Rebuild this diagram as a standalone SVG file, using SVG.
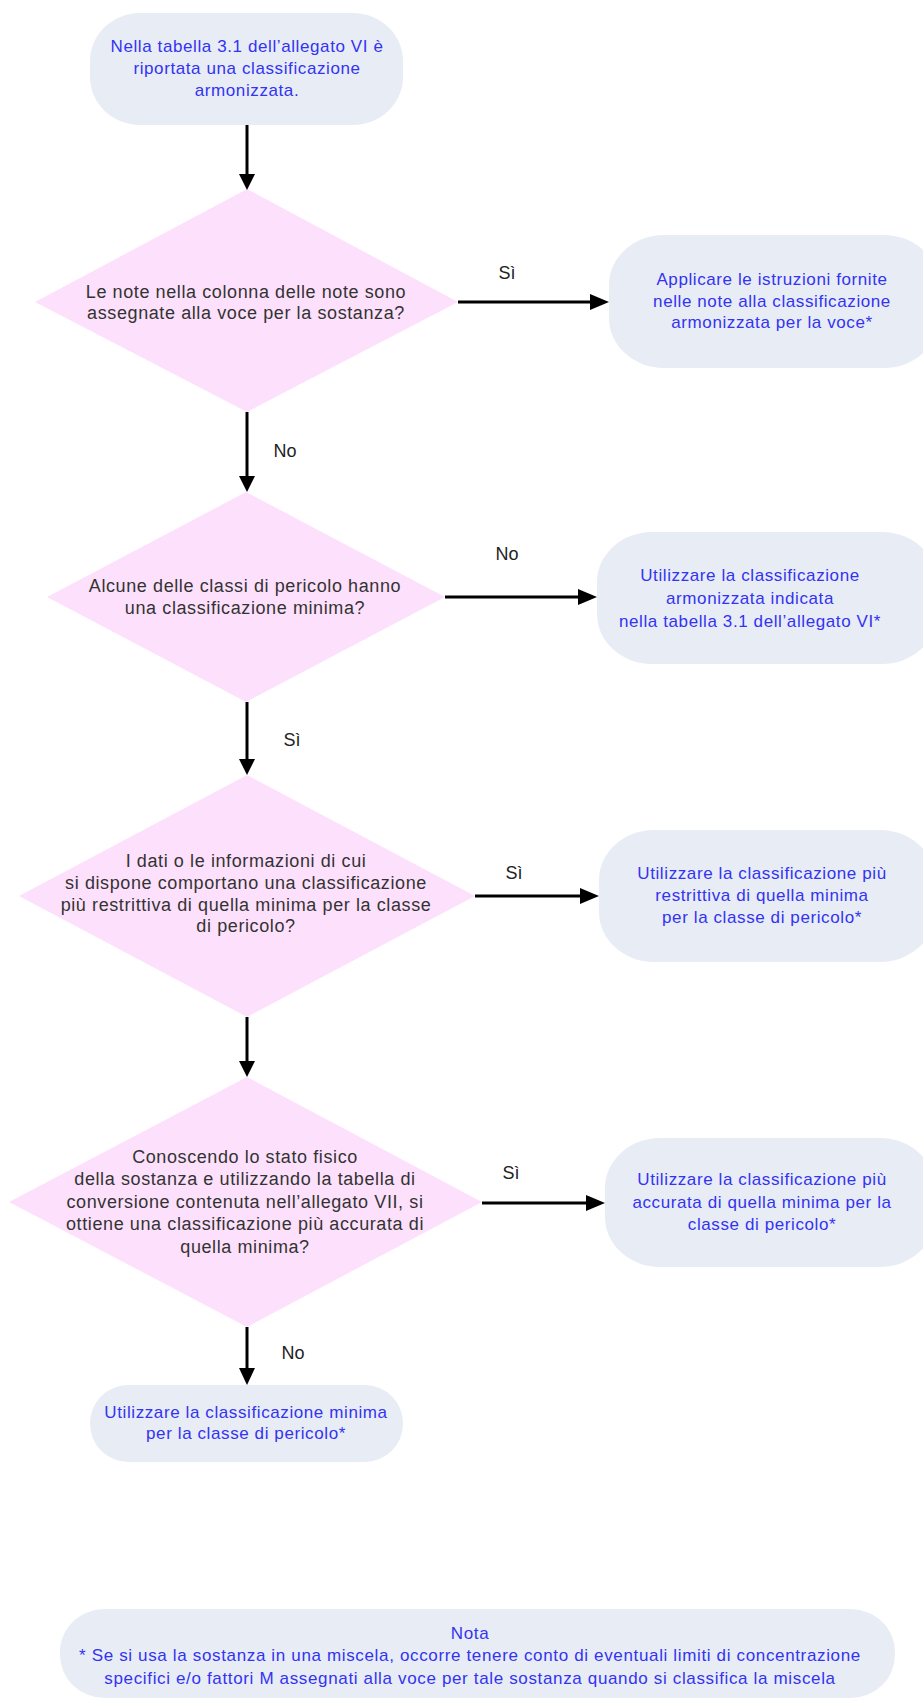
<svg xmlns="http://www.w3.org/2000/svg" width="923" height="1700" viewBox="0 0 923 1700">
<defs>
<style>
.box{fill:#E8ECF5;}
.dia{fill:#FDE1FC;}
.bt{font-family:"Liberation Sans",Arial,sans-serif;font-size:17px;letter-spacing:0.6px;fill:#3333F2;text-anchor:middle;}
.kt{font-family:"Liberation Sans",Arial,sans-serif;font-size:18px;letter-spacing:0.6px;fill:#333;text-anchor:middle;}
.lbl{font-family:"Liberation Sans",Arial,sans-serif;font-size:18px;fill:#222;text-anchor:middle;}
.nt{font-family:"Liberation Sans",Arial,sans-serif;font-size:17px;letter-spacing:0.65px;fill:#3333F2;text-anchor:middle;}
.ar{stroke:#000;stroke-width:3;fill:none;}
.ah{fill:#000;}
</style>
</defs>
<rect width="923" height="1700" fill="#fff"/>

<g id="start">
<rect class="box" x="90" y="13" width="313" height="112" rx="50" ry="48"/>
<text class="bt" x="247" y="52">Nella tabella 3.1 dell’allegato VI è</text>
<text class="bt" x="247" y="74">riportata una classificazione</text>
<text class="bt" x="247" y="96">armonizzata.</text>
</g>

<g id="q1">
<polygon class="dia" points="247,189 458,302 247,412 35,302"/>
<text class="kt" x="246" y="298">Le note nella colonna delle note sono</text>
<text class="kt" x="246" y="319">assegnate alla voce per la sostanza?</text>
</g>

<g id="r1">
<rect class="box" x="609" y="235" width="330" height="133" rx="55" ry="50"/>
<text class="bt" x="772" y="285">Applicare le istruzioni fornite</text>
<text class="bt" x="772" y="307">nelle note alla classificazione</text>
<text class="bt" x="772" y="328">armonizzata per la voce*</text>
</g>

<g id="q2">
<polygon class="dia" points="246,492 445,597 246,702 47,597"/>
<text class="kt" x="245" y="592">Alcune delle classi di pericolo hanno</text>
<text class="kt" x="245" y="614">una classificazione minima?</text>
</g>

<g id="r2">
<rect class="box" x="597" y="532" width="340" height="132" rx="55" ry="50"/>
<text class="bt" x="750" y="581">Utilizzare la classificazione</text>
<text class="bt" x="750" y="604">armonizzata indicata</text>
<text class="bt" x="750" y="627">nella tabella 3.1 dell’allegato VI*</text>
</g>

<g id="q3">
<polygon class="dia" points="247,775 475,896 247,1017 19,896"/>
<text class="kt" x="246" y="867">I dati o le informazioni di cui</text>
<text class="kt" x="246" y="889">si dispone comportano una classificazione</text>
<text class="kt" x="246" y="911">più restrittiva di quella minima per la classe</text>
<text class="kt" x="246" y="932">di pericolo?</text>
</g>

<g id="r3">
<rect class="box" x="599" y="830" width="336" height="132" rx="55" ry="50"/>
<text class="bt" x="762" y="879">Utilizzare la classificazione più</text>
<text class="bt" x="762" y="901">restrittiva di quella minima</text>
<text class="bt" x="762" y="923">per la classe di pericolo*</text>
</g>

<g id="q4">
<polygon class="dia" points="247,1077 482,1202 247,1327 9,1202"/>
<text class="kt" x="245" y="1163">Conoscendo lo stato fisico</text>
<text class="kt" x="245" y="1185">della sostanza e utilizzando la tabella di</text>
<text class="kt" x="245" y="1208">conversione contenuta nell’allegato VII, si</text>
<text class="kt" x="245" y="1230">ottiene una classificazione più accurata di</text>
<text class="kt" x="245" y="1253">quella minima?</text>
</g>

<g id="r4">
<rect class="box" x="605" y="1138" width="330" height="129" rx="55" ry="50"/>
<text class="bt" x="762" y="1185">Utilizzare la classificazione più</text>
<text class="bt" x="762" y="1208">accurata di quella minima per la</text>
<text class="bt" x="762" y="1230">classe di pericolo*</text>
</g>

<g id="r5">
<rect class="box" x="90" y="1385" width="313" height="77" rx="38" ry="38"/>
<text class="bt" x="246" y="1418">Utilizzare la classificazione minima</text>
<text class="bt" x="246" y="1439">per la classe di pericolo*</text>
</g>

<g id="note">
<rect class="box" x="60" y="1609" width="835" height="89" rx="45" ry="43"/>
<text class="nt" x="470" y="1639">Nota</text>
<text class="nt" x="470" y="1661">* Se si usa la sostanza in una miscela, occorre tenere conto di eventuali limiti di concentrazione</text>
<text class="nt" x="470" y="1684">specifici e/o fattori M assegnati alla voce per tale sostanza quando si classifica la miscela</text>
</g>

<g id="connectors">
<line class="ar" x1="247" y1="125" x2="247" y2="176"/>
<polygon class="ah" points="239,174 255,174 247,190"/>
<line class="ar" x1="458" y1="302" x2="592" y2="302"/>
<polygon class="ah" points="590,294 590,310 609,302"/>
<line class="ar" x1="247" y1="412" x2="247" y2="478"/>
<polygon class="ah" points="239,476 255,476 247,492"/>
<line class="ar" x1="445" y1="597" x2="580" y2="597"/>
<polygon class="ah" points="578,589 578,605 597,597"/>
<line class="ar" x1="247" y1="702" x2="247" y2="761"/>
<polygon class="ah" points="239,759 255,759 247,775"/>
<line class="ar" x1="475" y1="896" x2="582" y2="896"/>
<polygon class="ah" points="580,888 580,904 599,896"/>
<line class="ar" x1="247" y1="1017" x2="247" y2="1063"/>
<polygon class="ah" points="239,1061 255,1061 247,1077"/>
<line class="ar" x1="482" y1="1203" x2="588" y2="1203"/>
<polygon class="ah" points="586,1195 586,1211 605,1203"/>
<line class="ar" x1="247" y1="1327" x2="247" y2="1370"/>
<polygon class="ah" points="239,1368 255,1368 247,1385"/>
<text class="lbl" x="507" y="279">Sì</text>
<text class="lbl" x="507" y="560">No</text>
<text class="lbl" x="514" y="879">Sì</text>
<text class="lbl" x="511" y="1179">Sì</text>
<text class="lbl" x="285" y="457">No</text>
<text class="lbl" x="292" y="746">Sì</text>
<text class="lbl" x="293" y="1359">No</text>
</g>
</svg>
